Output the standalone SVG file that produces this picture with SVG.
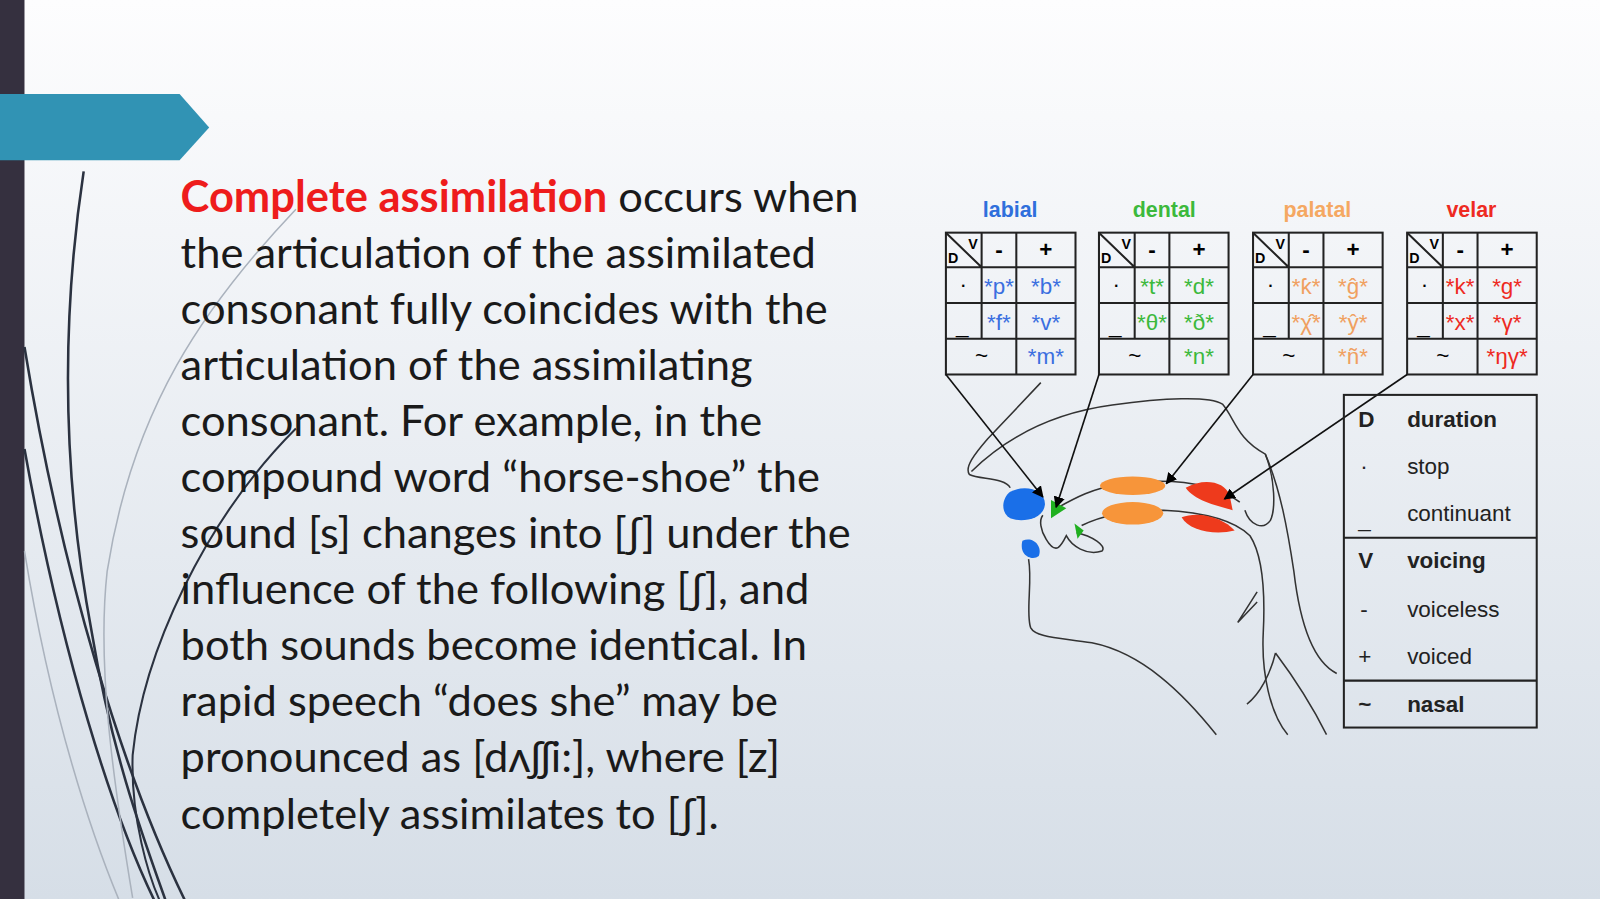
<svg xmlns="http://www.w3.org/2000/svg" width="1600" height="899" viewBox="0 0 1600 899">
<defs>
<linearGradient id="bg" x1="0" y1="0" x2="0" y2="1"><stop offset="0" stop-color="#fdfdfe"/><stop offset="1" stop-color="#d6dee7"/></linearGradient>
<marker id="ah" viewBox="0 0 10 10" refX="9" refY="5" markerWidth="7" markerHeight="7" orient="auto"><path d="M0,0L10,5L0,10z" fill="#000"/></marker>
<style>
.t{font-family:Lato,"Open Sans",sans-serif;font-size:42.6px;fill:#1a1a1a}
.c{font-family:"Liberation Sans",Arial,sans-serif;font-size:22px;text-anchor:middle}
.h{font-family:"Liberation Sans",Arial,sans-serif;font-size:21px;font-weight:bold;text-anchor:middle}
.lg{font-family:"Liberation Sans",Arial,sans-serif;font-size:22px;fill:#222}
.grid{fill:none;stroke:#222;stroke-width:2}
.anat{fill:none;stroke:#333;stroke-width:1.5}
.ar{stroke:#111;stroke-width:1.6;fill:none;marker-end:url(#ah)}
</style>
<g id="tbl">
<rect class="grid" x="0" y="0" width="127" height="139" fill="#fff" fill-opacity="0.4"/>
<path class="grid" d="M35,0V104M69,0V139M0,34H127M0,69H127M0,104H127M0,0L35,34"/>
<text x="2" y="30" style="font:bold 14px 'Liberation Sans',sans-serif">D</text>
<text x="22" y="16" style="font:bold 14px 'Liberation Sans',sans-serif">V</text>
<text class="c" x="52" y="24" font-weight="bold">-</text>
<text class="c" x="98" y="24" font-weight="bold">+</text>
<text class="c" x="17" y="58">·</text>
<text class="c" x="16" y="98">_</text>
<text class="c" x="35" y="128">~</text>
</g>
</defs>
<rect width="1600" height="899" fill="url(#bg)"/>
<g transform="scale(1.0204)">
<rect x="0" y="0" width="24" height="890" fill="#35303f"/>
<path d="M0,92H176L205,125L176,157H0z" fill="#3193b4"/>
<g fill="none" stroke="#2b3240" stroke-width="2.5">
<path d="M82,168C62,300 58,450 90,620C110,740 140,820 165,890"/>
<path d="M24,340C60,560 120,760 185,890"/>
<path d="M24,440C60,640 110,800 155,890"/>
<path d="M290,420C200,510 140,640 130,740C128,800 145,860 160,890" stroke-width="2"/>
</g>
<g fill="none" stroke="#aab2bd" stroke-width="1.5">
<path d="M290,205C200,300 130,400 105,560C95,650 110,760 130,880"/>
<path d="M24,540C50,700 90,820 120,890"/>
</g>
<text class="t" x="177" y="208"><tspan fill="#ee1c1c" font-weight="bold">Complete assimilation</tspan> occurs when</text>
<text class="t" x="177" y="263">the articulation of the assimilated</text>
<text class="t" x="177" y="318">consonant fully coincides with the</text>
<text class="t" x="177" y="372">articulation of the assimilating</text>
<text class="t" x="177" y="427">consonant. For example, in the</text>
<text class="t" x="177" y="482">compound word “horse-shoe” the</text>
<text class="t" x="177" y="537">sound [s] changes into [ʃ] under the</text>
<text class="t" x="177" y="592">influence of the following [ʃ], and</text>
<text class="t" x="177" y="647">both sounds become identical. In</text>
<text class="t" x="177" y="702">rapid speech “does she” may be</text>
<text class="t" x="177" y="757">pronounced as [dʌʃʃi:], where [z]</text>
<text class="t" x="177" y="812">completely assimilates to [ʃ].</text>

<g id="labial"><text class="h" x="990" y="213" fill="#2f6fdc">labial</text><use href="#tbl" x="927" y="228"/>
<g fill="#3b6fe0"><text x="979" y="288" class="c">*p*</text><text x="1025" y="288" class="c">*b*</text><text x="979" y="323" class="c">*f*</text><text x="1025" y="323" class="c">*v*</text><text x="1025" y="357" class="c">*m*</text></g></g>
<g id="dental"><text class="h" x="1141" y="213" fill="#3cb93c">dental</text><use href="#tbl" x="1077" y="228"/>
<g fill="#3cb93c"><text x="1129" y="288" class="c">*t*</text><text x="1175" y="288" class="c">*d*</text><text x="1129" y="323" class="c">*θ*</text><text x="1175" y="323" class="c">*ð*</text><text x="1175" y="357" class="c">*n*</text></g></g>
<g id="palatal"><text class="h" x="1291" y="213" fill="#f5a862">palatal</text><use href="#tbl" x="1228" y="228"/>
<g fill="#f0a060"><text x="1280" y="288" class="c">*ƙ*</text><text x="1326" y="288" class="c">*ĝ*</text><text x="1280" y="323" class="c">*χ̂*</text><text x="1326" y="323" class="c">*ŷ*</text><text x="1326" y="357" class="c">*ñ*</text></g></g>
<g id="velar"><text class="h" x="1442" y="213" fill="#ee2a22">velar</text><use href="#tbl" x="1379" y="228"/>
<g fill="#ee2a22"><text x="1431" y="288" class="c">*k*</text><text x="1477" y="288" class="c">*g*</text><text x="1431" y="323" class="c">*x*</text><text x="1477" y="323" class="c">*γ*</text><text x="1477" y="357" class="c">*ŋγ*</text></g></g>

<g id="head">
<path class="anat" d="M1020,375L968,430C955,445 945,458 950,465C960,470 985,468 990,478"/>
<path class="anat" d="M952,462C985,430 1030,405 1090,397C1140,390 1185,388 1198,396C1210,410 1212,430 1240,445C1250,470 1250,500 1245,510C1238,520 1225,515 1220,500"/>
<path class="anat" d="M1032,500C1050,490 1070,478 1100,474C1150,468 1190,474 1215,492"/>
<path class="anat" d="M1060,515C1080,505 1110,500 1140,500C1180,502 1210,510 1225,525C1238,545 1240,580 1238,620C1236,660 1245,700 1262,720"/>
<path class="anat" d="M1055,522C1070,525 1085,535 1080,540C1065,545 1050,535 1045,525C1040,535 1035,545 1025,528C1020,520 1018,510 1022,505"/>
<path class="anat" d="M1008,548C1012,570 1005,600 1010,615C1015,625 1040,625 1070,630C1120,640 1160,680 1192,720"/>
<path class="anat" d="M1240,445C1255,480 1262,520 1268,560C1275,620 1290,650 1310,660"/>
<path class="anat" d="M1232,580L1213,610L1232,590"/>
<path class="anat" d="M1250,640C1265,660 1285,690 1300,720M1250,640C1245,660 1235,680 1222,690"/>
<path d="M990,482C1005,474 1025,480 1024,495C1022,510 1000,512 990,508C980,502 982,488 990,482z" fill="#1a6fe8"/>
<path d="M1002,530C1012,525 1022,535 1018,545C1012,550 998,545 1002,530z" fill="#1a6fe8"/>
<path d="M1030,490L1045,498L1030,508z" fill="#20b020"/>
<path d="M1053,513L1062,520L1056,528z" fill="#20b020"/>
<ellipse cx="1110" cy="476" rx="32" ry="9" fill="#f7953a"/>
<ellipse cx="1110" cy="503" rx="30" ry="11" fill="#f7953a"/>
<path d="M1162,478C1180,468 1200,472 1205,485L1208,500C1190,495 1170,490 1162,478z" fill="#ee3a1c"/>
<path d="M1158,507C1175,500 1200,508 1210,520C1190,525 1165,520 1158,507z" fill="#ee3a1c"/>
</g>
<g id="connectors">
<path class="ar" d="M927,367L1022,487"/>
<path class="ar" d="M1077,367L1035,497"/>
<path class="ar" d="M1228,367L1143,474"/>
<path class="ar" d="M1379,367L1200,489"/>
</g>
<g id="legend">
<rect class="grid" x="1317" y="387" width="189" height="326" fill="#fff" fill-opacity="0.35"/>
<path class="grid" d="M1317,527H1506M1317,667H1506"/>
<g class="lg"><text x="1331" y="418" font-weight="bold">D</text><text x="1379" y="418" font-weight="bold">duration</text>
<text x="1333" y="465">·</text><text x="1379" y="465">stop</text>
<text x="1331" y="516">_</text><text x="1379" y="511">continuant</text>
<text x="1331" y="557" font-weight="bold">V</text><text x="1379" y="557" font-weight="bold">voicing</text>
<text x="1333" y="605">-</text><text x="1379" y="605">voiceless</text>
<text x="1331" y="651">+</text><text x="1379" y="651">voiced</text>
<text x="1331" y="698" font-weight="bold">~</text><text x="1379" y="698" font-weight="bold">nasal</text></g>
</g>
</g>
</svg>
